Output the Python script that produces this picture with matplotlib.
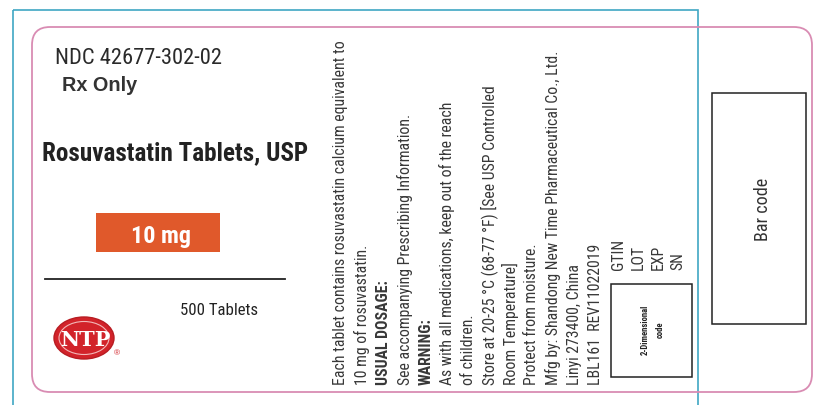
import matplotlib
matplotlib.use("Agg")
import matplotlib.pyplot as plt
from matplotlib import font_manager
from matplotlib.patches import Rectangle, FancyBboxPatch, Ellipse

# pick a narrow sans (the label uses an Arial Narrow look)
names = {f.name for f in font_manager.fontManager.ttflist}
NARROW = "Liberation Sans"
for cand in ["Liberation Sans Narrow", "Roboto Condensed", "Arimo Narrow", "Archivo Narrow",
             "Barlow Semi Condensed", "Asap Condensed"]:
    if cand in names:
        NARROW = cand
        break
SANS = "Liberation Sans"

# label texts
ndc = "NDC 42677-302-02"
rx = "Rx Only"
product = "Rosuvastatin Tablets, USP"
strength = "10 mg"
count = "500 Tablets"
side_lines = [
    "Each tablet contains rosuvastatin calcium equivalent to",
    "10 mg of rosuvastatin.",
    "USUAL DOSAGE:",
    "See accompanying Prescribing Information.",
    "WARNING:",
    "As with all medications, keep out of the reach",
    "of children.",
    "Store at 20-25 \u00b0C (68-77 \u00b0F) [See USP Controlled",
    "Room Temperature]",
    "Protect from moisture.",
    "Mfg by: Shandong New Time Pharmaceutical Co., Ltd.",
    "Linyi 273400, China",
    "LBL161  REV11022019",
]
side_bold = ["USUAL DOSAGE:", "WARNING:"]
code_fields = ["GTIN", "LOT", "EXP", "SN"]
code_box_text = "2-Dimensional\ncode"
barcode_text = "Bar code"

W, H = 815, 406
fig = plt.figure(figsize=(W / 100, H / 100), dpi=100)
ax = fig.add_axes([0, 0, 1, 1])
ax.set_xlim(0, W)
ax.set_ylim(H, 0)
ax.axis("off")
renderer = fig.canvas.get_renderer()


def fit(t, target, vertical=False):
    # scale font so the text spans the width (or height) seen on the label
    bb = t.get_window_extent(renderer)
    size = bb.height if vertical else bb.width
    t.set_fontsize(t.get_fontsize() * target / size)
    return t


# outer cyan trim line and pink rounded label edge
ax.add_patch(Rectangle((13, 11), 685, 410, fill=False, ec="#3fa7c4", lw=1.2))
ax.add_patch(FancyBboxPatch((32, 28), 780, 365, boxstyle="round,pad=0,rounding_size=18",
                            fill=False, ec="#d98cb3", lw=1.3))

# left panel
fit(ax.text(55, 64, ndc, family=NARROW, fontsize=15, color="#2a2a2a", va="baseline"), 167)
fit(ax.text(62, 91, rx, family=SANS, fontsize=13, weight="bold", color="#333333",
            va="baseline"), 75)
fit(ax.text(42, 160, product, family=NARROW, fontsize=18, weight="bold", color="#222222",
            va="baseline"), 266)
ax.add_patch(Rectangle((96, 214), 124, 39, fc="#e0592b", ec="none"))
fit(ax.text(161, 243, strength, family=NARROW, fontsize=14.5, weight="bold", color="white",
            va="baseline", ha="center"), 60)
ax.plot([45, 285], [280, 280], color="#222222", lw=1.3)
fit(ax.text(180, 315, count, family=NARROW, fontsize=11.5, color="#222222",
            va="baseline"), 78)

# NTP logo
ax.add_patch(Ellipse((84, 339), 60, 42, fc="#d2232a", ec="#b81c22", lw=1))
ax.add_patch(Ellipse((84, 339), 50, 33, fc="none", ec="#f2b8b8", lw=0.8))
ax.text(85, 340, "NTP", family="DejaVu Serif", fontsize=15, weight="bold", color="white",
        va="center", ha="center")
ax.text(117, 354, "\u00ae", family=SANS, fontsize=6, color="#d2232a", va="center", ha="center")

# rotated side text column
x0, dx, y_base = 341, 21.2, 385
for i, s in enumerate(side_lines):
    t = ax.text(x0 + i * dx, y_base, s, family=NARROW, fontsize=10.5, rotation=90,
                rotation_mode="anchor", ha="left", va="center", color="#383838",
                weight="bold" if s in side_bold else "normal")
    if i == 0:
        fit(t, 347, vertical=True)
        side_size = t.get_fontsize()
    else:
        t.set_fontsize(side_size)
for j, s in enumerate(code_fields):
    ax.text(618 + j * 20, 270, s, family=NARROW, fontsize=side_size, rotation=90,
            rotation_mode="anchor", ha="left", va="center", color="#383838")

# 2D code placeholder
ax.add_patch(Rectangle((611, 285), 81, 93, fill=False, ec="#222222", lw=1.1))
fit(ax.text(653, 330, code_box_text, family=NARROW, fontsize=4.5, weight="bold", rotation=90,
            ha="center", va="center", color="#222222", linespacing=1.9), 50, vertical=True)

# bar code placeholder
ax.add_patch(Rectangle((712, 94), 94, 231, fill=False, ec="#222222", lw=1.1))
fit(ax.text(763, 209, barcode_text, family=NARROW, fontsize=12, rotation=90,
            ha="center", va="center", color="#333333"), 63, vertical=True)

fig.savefig("out.png", dpi=100)
